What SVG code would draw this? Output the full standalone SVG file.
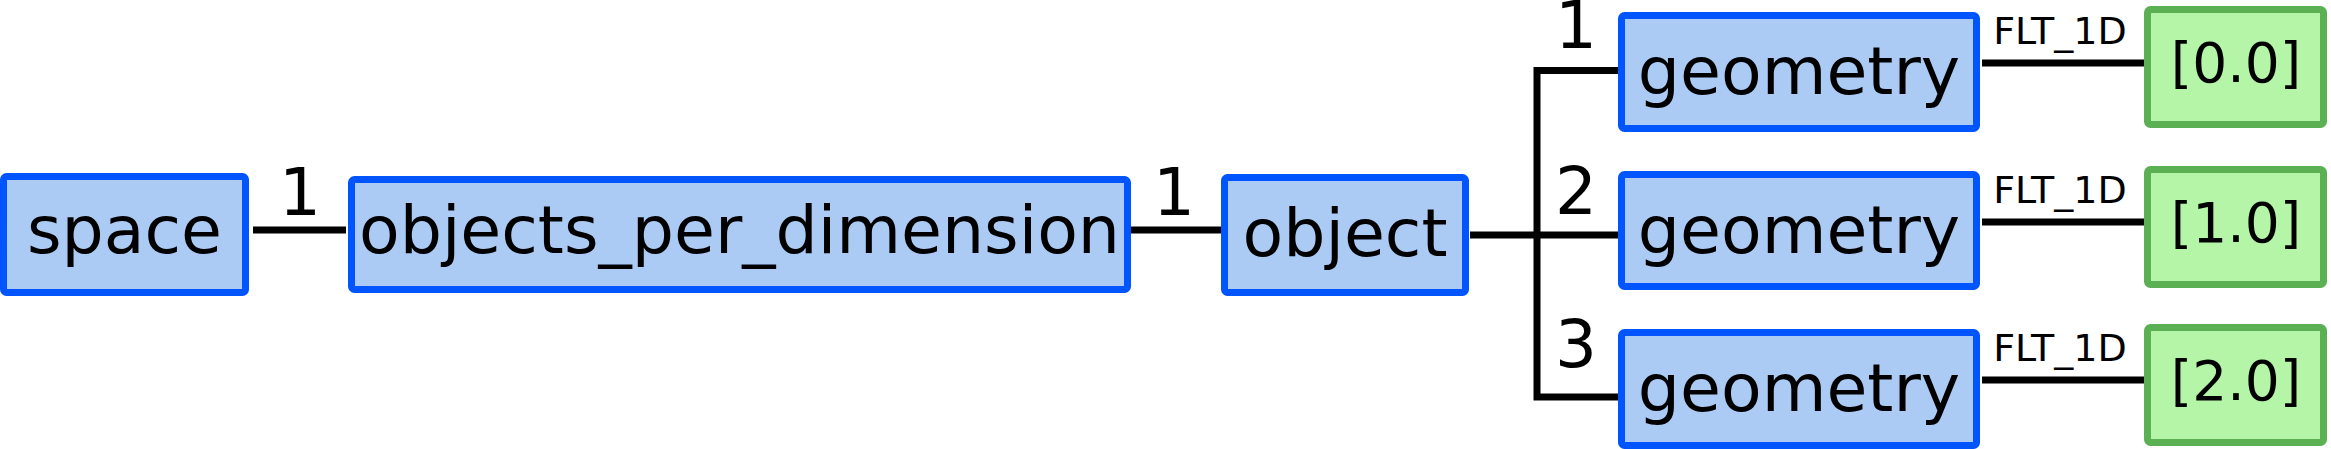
<svg xmlns="http://www.w3.org/2000/svg" width="2331" height="449" viewBox="0 0 2331 449">
<style>
.n rect{fill:#abcbf5;stroke:#0055ff;stroke-width:7}
.v rect{fill:#b5f5a8;stroke:#5cb054;stroke-width:7}
text{font-family:"DejaVu Sans",sans-serif;fill:#000;text-anchor:middle}
.t{font-size:66.5px}
.vt{font-size:55px}
.lb{font-size:66px}
.sl{font-size:38px}
#edges path{fill:none;stroke:#000;stroke-width:7;stroke-linejoin:miter}
</style>
<rect width="2331" height="449" fill="#fff"/>
<g id="edges">
<path d="M253 230H346"/>
<path d="M1127 230H1222"/>
<path d="M1470 235H1619"/>
<path d="M1619 70.5H1537V397H1619"/>
<path d="M1982 63H2145"/>
<path d="M1982 222H2145"/>
<path d="M1982 380H2145"/>
<text class="lb" x="300" y="215">1</text>
<text class="lb" x="1174" y="215">1</text>
<text class="lb" x="1576" y="48">1</text>
<text class="lb" x="1576" y="214">2</text>
<text class="lb" x="1576" y="367">3</text>
<text class="sl" x="2060" y="44">FLT_1D</text>
<text class="sl" x="2060" y="203">FLT_1D</text>
<text class="sl" x="2060" y="361">FLT_1D</text>
</g>
<g id="space" class="n"><rect x="3.5" y="176.5" width="242" height="116" rx="3"/><text class="t" x="124.5" y="253">space</text></g>
<g id="objects_per_dimension" class="n"><rect x="351.5" y="179.5" width="776" height="110" rx="3"/><text class="t" x="739.5" y="253">objects_per_dimension</text></g>
<g id="object" class="n"><rect x="1224.5" y="177.5" width="241" height="115" rx="3"/><text class="t" x="1345" y="256">object</text></g>
<g id="geometry1" class="n"><rect x="1621.5" y="15.5" width="355" height="113" rx="3"/><text class="t" x="1799" y="94">geometry</text></g>
<g id="geometry2" class="n"><rect x="1621.5" y="174.5" width="355" height="112" rx="3"/><text class="t" x="1799" y="253">geometry</text></g>
<g id="geometry3" class="n"><rect x="1621.5" y="332.5" width="355" height="113" rx="3"/><text class="t" x="1799" y="411">geometry</text></g>
<g id="value1" class="v"><rect x="2147.5" y="9.5" width="176" height="115" rx="3"/><text class="vt" x="2236" y="82">[0.0]</text></g>
<g id="value2" class="v"><rect x="2147.5" y="169.5" width="176" height="115" rx="3"/><text class="vt" x="2236" y="242">[1.0]</text></g>
<g id="value3" class="v"><rect x="2147.5" y="327.5" width="176" height="115" rx="3"/><text class="vt" x="2236" y="400">[2.0]</text></g>
</svg>
